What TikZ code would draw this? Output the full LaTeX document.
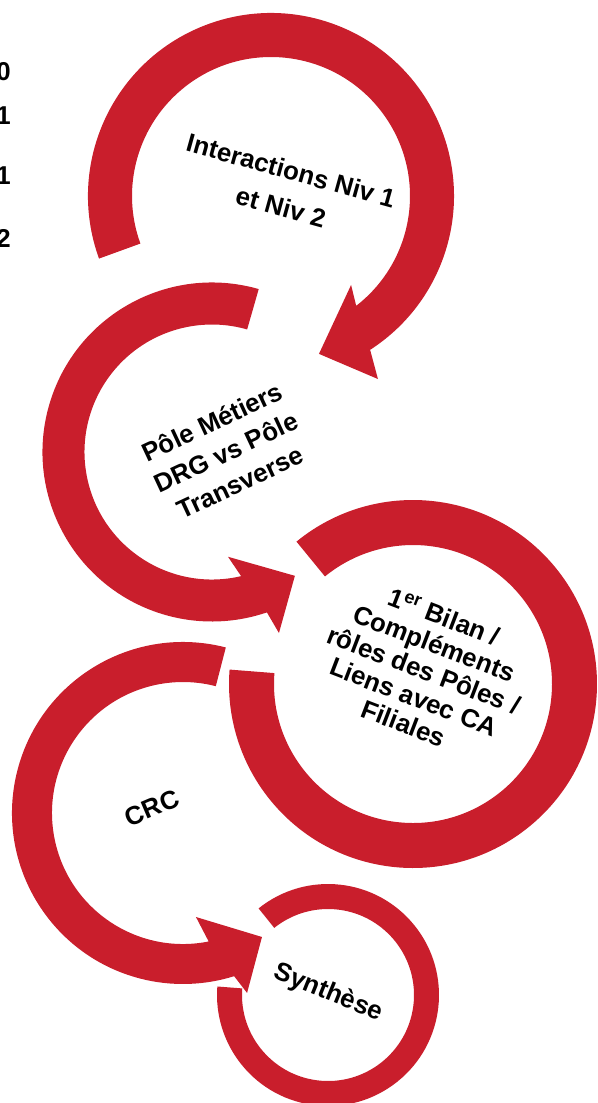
\documentclass[tikz,border=0pt]{standalone}
\usepackage{fontspec}
\setmainfont{Liberation Sans}
\usepackage{xcolor}
\usepackage{tikz}

\definecolor{rougeanneau}{RGB}{201,30,44}

\begin{document}
\begin{tikzpicture}[x=0.02cm, y=0.02cm,
    anneau/.style={fill=rougeanneau, draw=none},
    etiquette/.style={font=\fontsize{14.7}{#1}\selectfont\bfseries, align=center, inner sep=0pt},
    chiffre/.style={font=\fontsize{14.7}{17}\selectfont\bfseries, inner sep=0pt}]
    \useasboundingbox (0,0) rectangle (598,-1103);

    % 1. Chiffres coupés au bord gauche
    \foreach \y/\t [count=\i] in {72/0, 116/1, 176/1, 238/2}
        \node[chiffre, anchor=east] (chiffre\i) at (11,-\y) {\t};

    % 2. Flèche circulaire : Interactions (sens horaire)
    \begin{scope}[shift={(271,-196)}]
        \fill[anneau] (200:183) arc[start angle=200, end angle=-57.2, radius=183]
            -- (-59.7:212) -- (-73.1:165) -- (-48:119.7) -- (-52.2:139)
            arc[start angle=-52.2, end angle=200, radius=139] -- cycle;
    \end{scope}

    % 3. Flèche circulaire : Pôle Métiers (sens trigo)
    \begin{scope}[shift={(212,-452)}]
        \fill[anneau] (74:169.5) arc[start angle=74, end angle=288.9, radius=169.5]
            -- (290.3:193) -- (303.8:149) -- (278.7:106) -- (283.2:127.5)
            arc[start angle=283.2, end angle=74, radius=127.5] -- cycle;
    \end{scope}

    % 4. Anneau : 1er Bilan
    \begin{scope}[shift={(413,-684)}]
        \fill[anneau] (129.3:184) arc[start angle=129.3, end angle=-184.5, radius=184]
            -- (-184.5:139) arc[start angle=-184.5, end angle=129.3, radius=139] -- cycle;
    \end{scope}

    % 5. Anneau : Synthèse
    \begin{scope}[shift={(328,-995)}]
        \fill[anneau] (128.7:111) arc[start angle=128.7, end angle=-184.4, radius=111]
            -- (-184.4:86) arc[start angle=-184.4, end angle=128.7, radius=86] -- cycle;
    \end{scope}

    % 6. Flèche circulaire : CRC (sens trigo)
    \begin{scope}[shift={(183,-813)}]
        \fill[anneau] (75.5:171) arc[start angle=75.5, end angle=287.4, radius=171]
            -- (289.6:191) -- (302.5:147) -- (277.1:104.8) -- (281.3:131)
            arc[start angle=281.3, end angle=75.5, radius=131] -- cycle;
    \end{scope}

    % 7. Textes
    \node[etiquette=21.6, rotate=-15.5] (interactions) at (286,-189) {Interactions Niv 1\\et Niv 2};
    \node[etiquette=18.8, rotate=25] (pole) at (226,-452) {Pôle Métiers\\DRG vs Pôle\\Transverse};
    \node[etiquette=16.2, rotate=-21] (bilan) at (424,-670)
        {1\textsuperscript{er} Bilan /\\Compléments\\rôles des Pôles /\\Liens avec CA\\Filiales};
    \node[etiquette=17, rotate=23] (crc) at (152,-808) {CRC};
    \node[etiquette=17, rotate=-22] (synthese) at (328,-993) {Synthèse};
\end{tikzpicture}
\end{document}
